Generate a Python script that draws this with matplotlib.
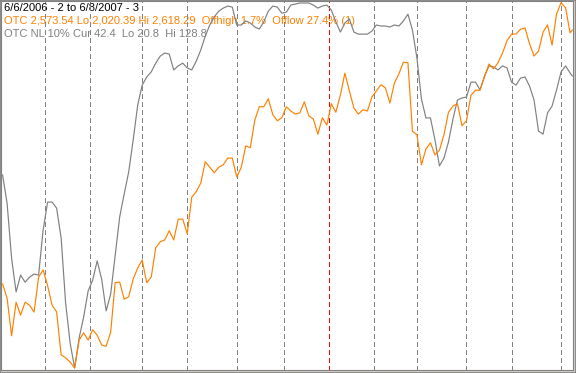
import matplotlib
matplotlib.use("Agg")
import matplotlib.pyplot as plt
from matplotlib.patches import Rectangle

# trading-day index (0 = 6/6/2006), sampled every 2 days plus the last day
days = list(range(0, 253, 2)) + [253]

# OTC composite close
otc = [2158, 2135, 2073, 2128, 2107, 2128, 2123, 2112, 2169, 2181,
       2155, 2123, 2112, 2042, 2037, 2030, 2020.39, 2066, 2078, 2066,
       2083, 2074, 2058, 2056, 2079, 2160, 2161, 2133, 2137, 2166,
       2184, 2197, 2160, 2169, 2217, 2227, 2230, 2245, 2230, 2264,
       2264, 2240, 2300, 2309, 2323, 2358, 2349, 2340, 2349, 2353,
       2364, 2364, 2333, 2349, 2384, 2381, 2426, 2448, 2448, 2461,
       2435, 2425, 2430, 2448, 2441, 2436, 2438, 2456, 2433, 2428,
       2403, 2430, 2418, 2453, 2439, 2467, 2503, 2474, 2446, 2436,
       2443, 2441, 2464, 2474, 2484, 2479, 2454, 2487, 2502, 2521,
       2520, 2408, 2402, 2353, 2379, 2389, 2369, 2377, 2402, 2439,
       2449, 2453, 2417, 2425, 2467, 2475, 2475, 2497, 2518, 2510,
       2520, 2536, 2556, 2567, 2567, 2575, 2577, 2551, 2531, 2539,
       2570, 2582, 2549, 2600, 2618.29, 2610, 2569, 2573.54]

# OTC new lows, 10% smoothing (plotted inverted)
nl10 = [71.7, 80.0, 96.3, 106.3, 101.3, 103.4, 101.9, 101.0, 101.3, 88.0,
        79.7, 79.7, 81.5, 90.3, 109.6, 121.4, 128.8, 119.9, 113.7, 106.0,
        102.8, 97.1, 102.5, 111.9, 106.9, 95.4, 84.1, 77.3, 70.8, 61.3,
        51.0, 45.1, 42.7, 41.2, 38.6, 36.5, 35.6, 35.9, 40.6, 39.4,
        38.6, 40.0, 40.6, 38.0, 34.7, 30.6, 27.3, 24.9, 23.2, 22.3,
        21.7, 22.0, 27.3, 27.3, 26.1, 26.7, 27.9, 28.5, 26.4, 23.2,
        21.7, 22.0, 23.8, 23.5, 21.4, 21.1, 20.8, 20.8, 20.8, 21.4,
        22.3, 21.7, 21.4, 22.9, 26.4, 29.4, 26.7, 25.5, 29.4, 30.0,
        30.0, 30.0, 29.1, 27.3, 27.6, 27.6, 27.9, 27.3, 27.6, 26.1,
        24.1, 28.8, 37.1, 49.2, 54.8, 54.8, 61.3, 69.0, 66.7, 61.9,
        55.1, 49.5, 48.9, 48.6, 44.2, 44.2, 46.5, 42.4, 39.4, 39.7,
        40.6, 39.4, 40.0, 44.2, 45.1, 43.0, 42.7, 45.4, 49.5, 58.7,
        59.6, 53.3, 51.3, 46.5, 41.2, 39.4, 41.5, 42.4]

# first trading day of each month; the year change is drawn red
month_starts = [19, 39, 62, 82, 104, 125, 145, 165, 184, 206, 226, 248]
year_start = 145

title = "6/6/2006 - 2 to 6/8/2007 - 3"
otc_label = "OTC 2,573.54 Lo 2,020.39 Hi 2,618.29  Offhigh 1.7%  Offlow 27.4% (1)"
nl_label = "OTC NL 10% Cur 42.4  Lo 20.8  Hi 128.8"

ORANGE = "#ff8000"
GREY = "#808080"

W, H = 576, 373
fig = plt.figure(figsize=(W / 100, H / 100), dpi=100, facecolor="#d4d0c8")
fig.add_artist(Rectangle((0, 0), 1, 1, transform=fig.transFigure,
                         fill=False, edgecolor=GREY, lw=1.2))

# axes box in pixels: left 1, top 1, right 573, bottom 369.5
ax = fig.add_axes([1 / W, (H - 369.5) / H, 572 / W, 368.5 / H])
ax.set_facecolor("white")
for s in ax.spines.values():
    s.set_color(GREY)
    s.set_linewidth(0.8)
ax.set_xticks([])
ax.set_yticks([])

for d in month_starts:
    ax.axvline(d, color="#ff0000" if d == year_start else GREY,
               lw=0.75, ls=(0, (4, 3)), antialiased=False, zorder=1)

txt = dict(transform=fig.transFigure, fontsize=8.0, family="Liberation Sans",
           va="center", zorder=0.5)
ax.text(4 / W, 1 - 8 / H, title, color="black", **txt)
ax.text(4 / W, 1 - 21 / H, otc_label, color=ORANGE, **txt)
ax.text(4 / W, 1 - 34 / H, nl_label, color=GREY, **txt)

ax.plot(days, nl10, color=GREY, lw=0.85, zorder=2)
ax.set_xlim(-0.7, 253.3)
ax.set_ylim(129.24, 20.2)

ax2 = ax.twinx()
ax2.plot(days, otc, color=ORANGE, lw=0.85)
ax2.set_ylim(2017.9, 2621.1)
ax2.set_xlim(-0.7, 253.3)
ax2.set_yticks([])
ax2.set_xticks([])
for s in ax2.spines.values():
    s.set_visible(False)

fig.savefig("out.png", dpi=100, facecolor=fig.get_facecolor())
